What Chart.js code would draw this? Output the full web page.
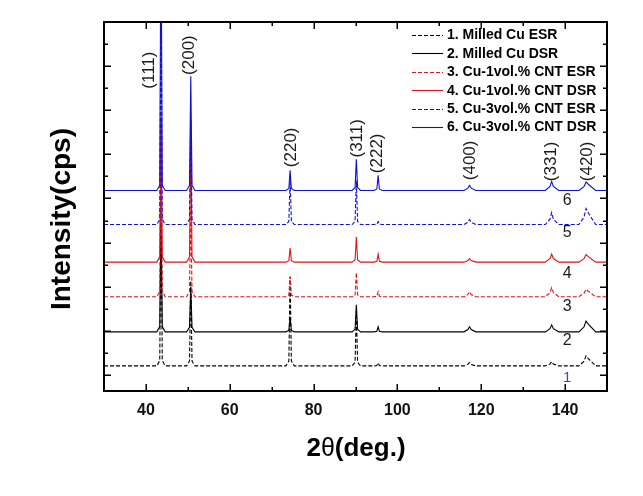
<!DOCTYPE html>
<html>
<head>
<meta charset="utf-8">
<script src="https://cdn.jsdelivr.net/npm/chart.js@4/dist/chart.umd.min.js"></script>
<style>
  html, body { margin: 0; padding: 0; background: #fff; }
  canvas { display: block; }
</style>
</head>
<body>
<canvas id="c" width="643" height="496"></canvas>
<script>
// ---------------- DATA ----------------
const twoTheta = [30,
  42.6, 43.3, 43.6, 43.9, 44.6,
  49.7, 50.4, 50.7, 51.0, 51.7,
  73.4, 74.1, 74.4, 74.7, 75.4,
  89.2, 89.9, 90.2, 90.5, 91.2,
  94.4, 95.1, 95.4, 95.7, 96.4,
  115.9, 116.8, 117.2, 117.6, 118.7,
  135.3, 136.4, 136.8, 137.2, 138.5,
  143.3, 144.5, 145.0, 145.6, 147.3,
  150];

const milledCuESR = [205,
  205, 325, 4069, 325, 205,
  205, 315, 2137, 315, 205,
  205, 315, 2228, 315, 205,
  205, 285, 1455, 285, 205,
  205, 215, 273, 215, 205,
  205, 239, 280, 239, 205,
  205, 249, 303, 249, 205,
  205, 307, 432, 364, 205,
  205];

const milledCuDSR = [977,
  977, 1097, 3477, 1097, 977,
  977, 1080, 2000, 1080, 977,
  977, 1010, 1295, 1010, 977,
  977, 1040, 1591, 1040, 977,
  977, 990, 1091, 990, 977,
  977, 1028, 1091, 1028, 977,
  977, 1049, 1136, 1049, 977,
  977, 1086, 1220, 1147, 977,
  977];

const cnt1ESR = [1773,
  1773, 1893, 5750, 1893, 1773,
  1773, 1890, 3818, 1890, 1773,
  1773, 1810, 2228, 1810, 1773,
  1773, 1815, 2318, 1815, 1773,
  1773, 1785, 1887, 1785, 1773,
  1773, 1824, 1887, 1824, 1773,
  1773, 1865, 1978, 1865, 1773,
  1773, 1850, 1943, 1892, 1773,
  1773];

const cnt1DSR = [2557,
  2557, 2677, 5852, 2677, 2557,
  2557, 2677, 5489, 2677, 2557,
  2557, 2590, 2875, 2590, 2557,
  2557, 2610, 3125, 2610, 2557,
  2557, 2575, 2739, 2575, 2557,
  2557, 2593, 2637, 2593, 2557,
  2557, 2639, 2739, 2639, 2557,
  2557, 2634, 2727, 2676, 2557,
  2557];

const cnt3ESR = [3409,
  3409, 3529, 8636, 3529, 3409,
  3409, 3529, 5773, 3529, 3409,
  3409, 3480, 4454, 3480, 3409,
  3409, 3480, 4409, 3480, 3409,
  3409, 3416, 3477, 3416, 3409,
  3409, 3460, 3523, 3460, 3409,
  3409, 3532, 3682, 3532, 3409,
  3409, 3573, 3773, 3664, 3409,
  3409];

const cnt3DSR = [4182,
  4182, 4302, 10546, 4302, 4182,
  4182, 4302, 6773, 4302, 4182,
  4182, 4225, 4637, 4225, 4182,
  4182, 4250, 4887, 4250, 4182,
  4182, 4215, 4523, 4215, 4182,
  4182, 4233, 4296, 4233, 4182,
  4182, 4274, 4387, 4274, 4182,
  4182, 4269, 4375, 4317, 4182,
  4182];

const seriesNames = [
  '1. Milled Cu ESR',
  '2. Milled Cu DSR',
  '3. Cu-1vol.% CNT ESR',
  '4. Cu-1vol.% CNT DSR',
  '5. Cu-3vol.% CNT ESR',
  '6. Cu-3vol.% CNT DSR'
];
const seriesValues = [milledCuESR, milledCuDSR, cnt1ESR, cnt1DSR, cnt3ESR, cnt3DSR];

const xTickValues = [40, 60, 80, 100, 120, 140];
const yTickValues = [0, 1000, 2000, 3000, 4000, 5000, 6000, 7000, 8000];

// peak annotations (hkl, label 2θ, label intensity)
const peakLabels = ['(111)', '(200)', '(220)', '(311)', '(222)', '(400)', '(331)', '(420)'];
const peakLabelX = [40.7, 50.45, 74.6, 90.4, 95.2, 117.3, 136.6, 145.3];
const peakLabelY = [6909, 7250, 5159, 5364, 5023, 4864, 4841, 4841];

// curve numbers
const curveNumbers = ['1', '2', '3', '4', '5', '6'];
const curveNumberX = [140.5, 140.5, 140.5, 140.5, 140.5, 140.5];
const curveNumberY = [-68, 773, 1545, 2296, 3227, 3955];

// ---------------- STYLE ----------------
const FONT = "'Liberation Sans', Arial, Helvetica, sans-serif";
const BLACK = '#000000', RED = '#e0141c', BLUE = '#1010d0';
const seriesColors = [BLACK, BLACK, RED, RED, BLUE, BLUE];
const seriesDash = [[4, 2], [], [4, 2], [], [4, 2], []];

const datasets = seriesValues.map((vals, i) => ({
  label: seriesNames[i],
  data: twoTheta.map((t, k) => ({ x: t, y: vals[k] })),
  borderColor: seriesColors[i],
  borderWidth: 1.1,
  borderDash: seriesDash[i],
  pointRadius: 0,
  tension: 0,
  fill: false,
  order: seriesValues.length - i
}));

const deco = {
  id: 'deco',
  afterDraw(chart) {
    const { ctx, chartArea: ca, scales: { x, y } } = chart;
    ctx.save();

    // inward ticks
    ctx.strokeStyle = '#000';
    ctx.lineWidth = 1.5;
    ctx.beginPath();
    for (let v = 40; v <= 140; v += 10) {
      const px = Math.round(x.getPixelForValue(v)) + 0.25;
      const len = (v % 20 === 0) ? 7 : 4;
      ctx.moveTo(px, ca.bottom); ctx.lineTo(px, ca.bottom - len);
      ctx.moveTo(px, ca.top); ctx.lineTo(px, ca.top + len);
    }
    for (let v = 0; v < 8000; v += 500) {
      const py = Math.round(y.getPixelForValue(v)) + 0.25;
      const len = (v % 1000 === 0) ? 7 : 4;
      ctx.moveTo(ca.left, py); ctx.lineTo(ca.left + len, py);
      ctx.moveTo(ca.right, py); ctx.lineTo(ca.right - len, py);
    }
    ctx.stroke();

    // frame
    ctx.lineWidth = 2;
    ctx.strokeRect(ca.left, ca.top, ca.right - ca.left, ca.bottom - ca.top);

    // legend
    ctx.font = 'bold 14px ' + FONT;
    ctx.textBaseline = 'middle';
    ctx.textAlign = 'left';
    for (let i = 0; i < seriesNames.length; i++) {
      const ly = 35 + i * 18.4;
      ctx.beginPath();
      ctx.strokeStyle = seriesColors[i];
      ctx.lineWidth = 1.1;
      ctx.setLineDash(seriesDash[i]);
      ctx.moveTo(412, Math.round(ly) + 0.5);
      ctx.lineTo(443, Math.round(ly) + 0.5);
      ctx.stroke();
      ctx.setLineDash([]);
      ctx.fillStyle = '#000';
      ctx.fillText(seriesNames[i], 447, ly + 0.5);
    }

    // peak labels (rotated)
    ctx.font = '17px ' + FONT;
    ctx.fillStyle = '#1a1a1a';
    ctx.textAlign = 'center';
    ctx.textBaseline = 'middle';
    for (let i = 0; i < peakLabels.length; i++) {
      const px = x.getPixelForValue(peakLabelX[i]);
      const py = y.getPixelForValue(peakLabelY[i]);
      ctx.save();
      ctx.translate(px, py);
      ctx.rotate(-Math.PI / 2);
      ctx.fillText(peakLabels[i], 0, 0);
      ctx.restore();
    }

    // curve numbers
    for (let i = 0; i < curveNumbers.length; i++) {
      ctx.font = (i === 0 ? '15px ' : '16px ') + FONT;
      ctx.fillStyle = i === 0 ? '#4a4a90' : '#1a1a1a';
      ctx.fillText(curveNumbers[i], x.getPixelForValue(curveNumberX[i]), y.getPixelForValue(curveNumberY[i]));
    }

    // y title
    ctx.save();
    ctx.translate(62, 219);
    ctx.rotate(-Math.PI / 2);
    ctx.font = 'bold 28px ' + FONT;
    ctx.fillStyle = '#000';
    ctx.fillText('Intensity(cps)', 0, 0);
    ctx.restore();

    // x title: 2θ(deg.)
    const parts = [['2', 'bold 26px ' + FONT], ['θ', '25px ' + FONT], ['(deg.)', 'bold 26px ' + FONT]];
    let total = 0;
    parts.forEach(p => { ctx.font = p[1]; total += ctx.measureText(p[0]).width; });
    let cx = 356 - total / 2;
    ctx.textAlign = 'left';
    ctx.textBaseline = 'alphabetic';
    ctx.fillStyle = '#000';
    parts.forEach(p => { ctx.font = p[1]; ctx.fillText(p[0], cx, 456); cx += ctx.measureText(p[0]).width; });

    ctx.restore();
  }
};

new Chart(document.getElementById('c'), {
  type: 'line',
  data: { datasets },
  options: {
    responsive: false,
    animation: false,
    devicePixelRatio: 1,
    layout: { padding: { left: 0, right: 36, top: 22, bottom: 0 } },
    plugins: { legend: { display: false }, tooltip: { enabled: false } },
    scales: {
      x: {
        type: 'linear',
        min: 30, max: 150,
        grid: { display: false, drawTicks: false },
        border: { display: false },
        afterBuildTicks: s => { s.ticks = xTickValues.map(v => ({ value: v })); },
        afterFit: s => { s.height = 105; },
        ticks: {
          padding: 10,
          color: '#111',
          font: { family: FONT, size: 16, weight: 'bold' },
          maxRotation: 0
        }
      },
      y: {
        type: 'linear',
        min: -364, max: 8000,
        grid: { display: false, drawTicks: false },
        border: { display: false },
        afterBuildTicks: s => { s.ticks = yTickValues.map(v => ({ value: v })); },
        afterFit: s => { s.width = 104; },
        ticks: { display: false }
      }
    }
  },
  plugins: [deco]
});
</script>
</body>
</html>
